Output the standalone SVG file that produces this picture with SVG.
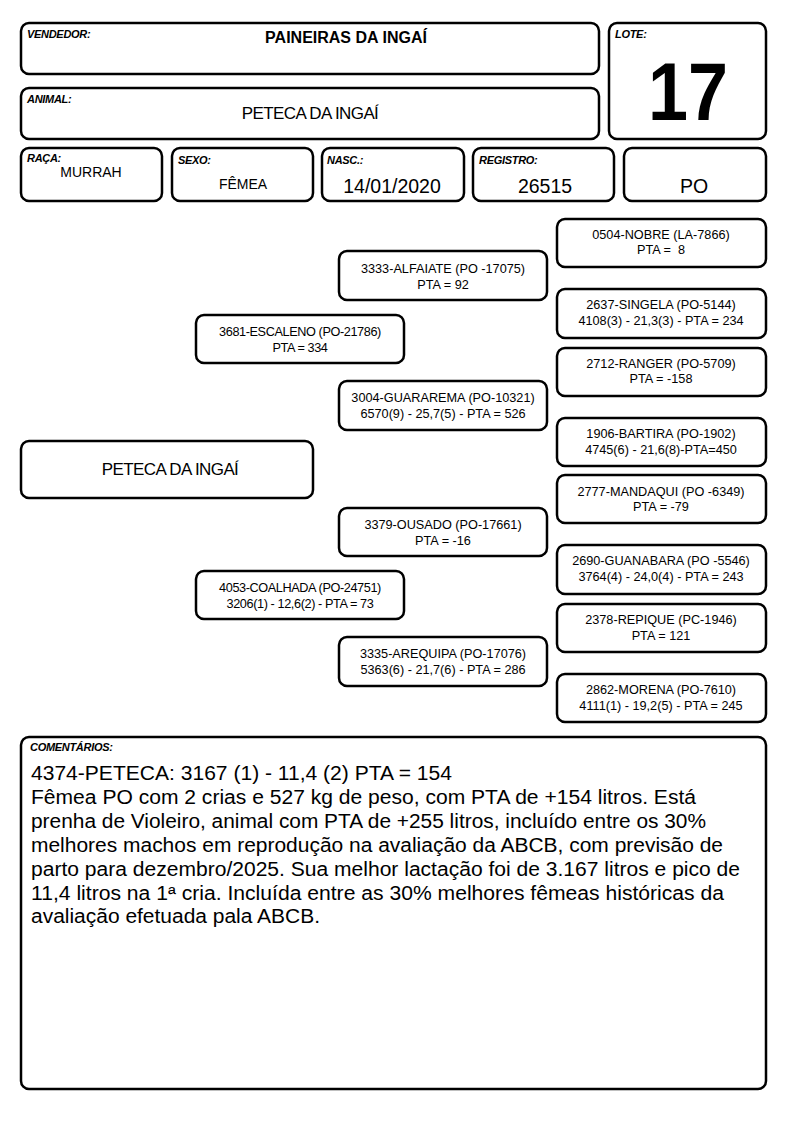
<svg xmlns="http://www.w3.org/2000/svg" width="794" height="1123" viewBox="0 0 794 1123">
<style>
.b{fill:#fff;stroke:#000;stroke-width:2.5}
.lab{font-family:"Liberation Sans",Arial,sans-serif;font-size:11px;font-weight:bold;font-style:italic;fill:#000;letter-spacing:-0.3px}
.t{font-family:"Liberation Sans",Arial,sans-serif;fill:#000;text-anchor:middle}
.p{font-family:"Liberation Sans",Arial,sans-serif;font-size:12.7px;fill:#000;text-anchor:middle}
.c{font-family:"Liberation Sans",Arial,sans-serif;font-size:19.5px;fill:#000}
</style>
<rect width="794" height="1123" fill="#fff"/>
<g id="vendedor"><rect class="b" x="21" y="23" width="578" height="51" rx="8"/><text class="lab" x="27" y="38">VENDEDOR:</text><text class="t" x="346" y="43" font-size="16" font-weight="bold">PAINEIRAS DA INGAÍ</text></g>
<g id="lote"><rect class="b" x="609" y="23" width="157" height="116" rx="8"/><text class="lab" x="615" y="38">LOTE:</text><text class="t" x="688" y="120" font-size="81" font-weight="bold" textLength="80" lengthAdjust="spacingAndGlyphs">17</text></g>
<g id="animal"><rect class="b" x="21" y="88" width="578" height="51" rx="8"/><text class="lab" x="27" y="103">ANIMAL:</text><text class="t" x="310" y="119" font-size="17" letter-spacing="-0.6">PETECA DA INGAÍ</text></g>
<g id="raca"><rect class="b" x="21" y="148" width="141" height="53" rx="8"/><text class="lab" x="27" y="162">RAÇA:</text><text class="t" x="91" y="177" font-size="14">MURRAH</text></g>
<g id="sexo"><rect class="b" x="172" y="148" width="141" height="53" rx="8"/><text class="lab" x="178" y="164">SEXO:</text><text class="t" x="243" y="189" font-size="14">FÊMEA</text></g>
<g id="nasc"><rect class="b" x="322" y="148" width="142" height="53" rx="8"/><text class="lab" x="327" y="164">NASC.:</text><text class="t" x="392" y="193" font-size="19.5">14/01/2020</text></g>
<g id="registro"><rect class="b" x="473" y="148" width="141" height="53" rx="8"/><text class="lab" x="479" y="164">REGISTRO:</text><text class="t" x="545" y="193" font-size="19.5">26515</text></g>
<g id="categoria"><rect class="b" x="624" y="148" width="142" height="53" rx="8"/><text class="t" x="694" y="193" font-size="19.5">PO</text></g>

<g id="peteca"><rect class="b" x="21" y="441" width="292" height="57" rx="8"/><text class="t" x="170" y="475" font-size="17" letter-spacing="-0.6">PETECA DA INGAÍ</text></g>
<g id="escaleno"><rect class="b" x="196" y="315" width="208" height="48" rx="8"/><text class="p" x="300" y="336" letter-spacing="-0.4">3681-ESCALENO (PO-21786)</text><text class="p" x="300" y="352" letter-spacing="-0.4">PTA = 334</text></g>
<g id="coalhada"><rect class="b" x="196" y="571" width="208" height="48" rx="8"/><text class="p" x="300" y="592" letter-spacing="-0.4">4053-COALHADA (PO-24751)</text><text class="p" x="300" y="608" letter-spacing="-0.4">3206(1) - 12,6(2) - PTA = 73</text></g>
<g id="alfaiate"><rect class="b" x="339" y="251" width="208" height="49" rx="8"/><text class="p" x="443" y="273">3333-ALFAIATE (PO -17075)</text><text class="p" x="443" y="289">PTA = 92</text></g>
<g id="guararema"><rect class="b" x="339" y="381" width="208" height="49" rx="8"/><text class="p" x="443" y="402">3004-GUARAREMA (PO-10321)</text><text class="p" x="443" y="418">6570(9) - 25,7(5) - PTA = 526</text></g>
<g id="ousado"><rect class="b" x="339" y="508" width="208" height="48" rx="8"/><text class="p" x="443" y="529">3379-OUSADO (PO-17661)</text><text class="p" x="443" y="545">PTA = -16</text></g>
<g id="arequipa"><rect class="b" x="339" y="637" width="208" height="49" rx="8"/><text class="p" x="443" y="658">3335-AREQUIPA (PO-17076)</text><text class="p" x="443" y="674">5363(6) - 21,7(6) - PTA = 286</text></g>
<g id="nobre"><rect class="b" x="557" y="219" width="209" height="48" rx="8"/><text class="p" x="661" y="239">0504-NOBRE (LA-7866)</text><text class="p" x="661" y="254" xml:space="preserve">PTA =  8</text></g>
<g id="singela"><rect class="b" x="557" y="289" width="209" height="49" rx="8"/><text class="p" x="661" y="309">2637-SINGELA (PO-5144)</text><text class="p" x="661" y="325">4108(3) - 21,3(3) - PTA = 234</text></g>
<g id="ranger"><rect class="b" x="557" y="348" width="209" height="48" rx="8"/><text class="p" x="661" y="368">2712-RANGER (PO-5709)</text><text class="p" x="661" y="383">PTA = -158</text></g>
<g id="bartira"><rect class="b" x="557" y="418" width="209" height="48" rx="8"/><text class="p" x="661" y="438">1906-BARTIRA (PO-1902)</text><text class="p" x="661" y="454">4745(6) - 21,6(8)-PTA=450</text></g>
<g id="mandaqui"><rect class="b" x="557" y="475" width="209" height="48" rx="8"/><text class="p" x="661" y="496">2777-MANDAQUI (PO -6349)</text><text class="p" x="661" y="511">PTA = -79</text></g>
<g id="guanabara"><rect class="b" x="557" y="545" width="209" height="49" rx="8"/><text class="p" x="661" y="565">2690-GUANABARA (PO -5546)</text><text class="p" x="661" y="581">3764(4) - 24,0(4) - PTA = 243</text></g>
<g id="repique"><rect class="b" x="557" y="604" width="209" height="48" rx="8"/><text class="p" x="661" y="624">2378-REPIQUE (PC-1946)</text><text class="p" x="661" y="640">PTA = 121</text></g>
<g id="morena"><rect class="b" x="557" y="674" width="209" height="48" rx="8"/><text class="p" x="661" y="694">2862-MORENA (PO-7610)</text><text class="p" x="661" y="710">4111(1) - 19,2(5) - PTA = 245</text></g>
<g id="connectors"></g>

<g id="comentarios"><rect class="b" x="21" y="737" width="745" height="352" rx="8"/><text class="lab" x="30" y="751">COMENTÁRIOS:</text>
<text class="c" x="31" y="780" textLength="421" lengthAdjust="spacingAndGlyphs">4374-PETECA: 3167 (1) - 11,4 (2) PTA = 154</text>
<text class="c" x="31" y="804" textLength="665" lengthAdjust="spacingAndGlyphs">Fêmea PO com 2 crias e 527 kg de peso, com PTA de +154 litros. Está</text>
<text class="c" x="31" y="828" textLength="675" lengthAdjust="spacingAndGlyphs">prenha de Violeiro, animal com PTA de +255 litros, incluído entre os 30%</text>
<text class="c" x="31" y="852" textLength="692" lengthAdjust="spacingAndGlyphs">melhores machos em reprodução na avaliação da ABCB, com previsão de</text>
<text class="c" x="31" y="876" textLength="709" lengthAdjust="spacingAndGlyphs">parto para dezembro/2025. Sua melhor lactação foi de 3.167 litros e pico de</text>
<text class="c" x="31" y="900" textLength="693" lengthAdjust="spacingAndGlyphs">11,4 litros na 1ª cria. Incluída entre as 30% melhores fêmeas históricas da</text>
<text class="c" x="31" y="923" textLength="289" lengthAdjust="spacingAndGlyphs">avaliação efetuada pala ABCB.</text>
</g>
</svg>
